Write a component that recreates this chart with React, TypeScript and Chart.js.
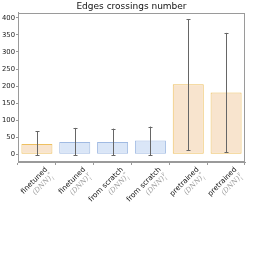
import React, { useEffect, useRef } from "react";
import { Chart, registerables } from "chart.js";

Chart.register(...registerables);

const categories = ["finetuned", "finetuned", "from scratch", "from scratch", "pretrained", "pretrained"];
const variantSup = ["*", "γ", "*", "γ", "*", "γ"];
const means = [30, 36, 36, 40, 205, 181];
const errLow = [-3, -3, -3, -3, 12, 6];
const errHigh = [67, 77, 75, 81, 396, 356];
const yTicks = [0, 50, 100, 150, 200, 250, 300, 350, 400];
const groupKind = ["o", "b", "b", "b", "o", "o"];

const ORANGE_FILL = "rgba(248,228,206,1)";
const ORANGE_EDGE = "rgba(238,192,96,1)";
const BLUE_FILL = "rgba(218,230,247,1)";
const BLUE_EDGE = "rgba(160,186,226,1)";
const FRAME = "#9a9a9a";

const framePlugin = {
  id: "frame",
  afterDraw(chart: any) {
    const { ctx, chartArea: a } = chart;
    ctx.save();
    ctx.strokeStyle = FRAME;
    ctx.lineWidth = 1;
    ctx.strokeRect(Math.round(a.left) + 0.5, Math.round(a.top) + 0.5, Math.round(a.right - a.left) - 1, Math.round(a.bottom - a.top) - 1);
    ctx.restore();
  },
};

const errorPlugin = {
  id: "errbars",
  afterDatasetsDraw(chart: any) {
    const { ctx } = chart;
    const xs = chart.scales.x;
    const ys = chart.scales.y;
    ctx.save();
    ctx.strokeStyle = "#666666";
    ctx.lineWidth = 1;
    for (let i = 0; i < means.length; i++) {
      const x = Math.round(xs.getPixelForValue(i)) + 0.5;
      const y1 = ys.getPixelForValue(errLow[i]);
      const y2 = ys.getPixelForValue(errHigh[i]);
      ctx.beginPath();
      ctx.moveTo(x, y1);
      ctx.lineTo(x, y2);
      ctx.moveTo(x - 2, Math.round(y1) + 0.5);
      ctx.lineTo(x + 2, Math.round(y1) + 0.5);
      ctx.moveTo(x - 2, Math.round(y2) + 0.5);
      ctx.lineTo(x + 2, Math.round(y2) + 0.5);
      ctx.stroke();
    }
    ctx.restore();
  },
};

const labelPlugin = {
  id: "xlabels",
  afterDraw(chart: any) {
    const { ctx } = chart;
    const xs = chart.scales.x;
    const bottom = chart.chartArea.bottom;
    for (let i = 0; i < categories.length; i++) {
      const cx = xs.getPixelForTick(i);
      ctx.save();
      ctx.translate(cx + 7, bottom + 4);
      ctx.rotate(-Math.PI / 4);
      ctx.textBaseline = "top";
      ctx.textAlign = "right";
      ctx.fillStyle = "#111";
      ctx.font = "7.2px 'DejaVu Sans'";
      ctx.fillText(categories[i], 0, 0);
      const lineY = 9;
      ctx.fillStyle = "#9a9a9a";
      ctx.font = "italic 7px 'DejaVu Serif'";
      const base = "(DNN)";
      const wBase = ctx.measureText(base).width;
      ctx.font = "italic 5px 'DejaVu Serif'";
      const wSup = ctx.measureText(variantSup[i]).width;
      const wSub = ctx.measureText("i").width;
      const total = wBase + Math.max(wSup, wSub) + 1;
      const sx = -total;
      ctx.textAlign = "left";
      ctx.font = "italic 7px 'DejaVu Serif'";
      ctx.fillText(base, sx, lineY);
      ctx.font = "italic 5px 'DejaVu Serif'";
      ctx.fillText(variantSup[i], sx + wBase + 0.5, lineY - 2);
      ctx.fillText("i", sx + wBase + 0.5, lineY + 4);
      ctx.restore();
    }
  },
};

export default function App() {
  const ref = useRef<HTMLCanvasElement>(null);
  useEffect(() => {
    document.body.style.margin = "0";
    const canvas = ref.current!;
    const chart = new Chart(canvas, {
      type: "bar",
      data: {
        labels: categories,
        datasets: [
          {
            data: means,
            backgroundColor: groupKind.map((k) => (k === "o" ? ORANGE_FILL : BLUE_FILL)),
            borderColor: groupKind.map((k) => (k === "o" ? ORANGE_EDGE : BLUE_EDGE)),
            borderWidth: 1,
            borderSkipped: false,
            barPercentage: 0.82,
            categoryPercentage: 1,
          },
        ],
      },
      options: {
        animation: false,
        responsive: false,
        devicePixelRatio: 1,
        layout: { padding: { left: 0, right: 13, top: 0, bottom: 0 } },
        plugins: {
          legend: { display: false },
          tooltip: { enabled: false },
          title: {
            display: true,
            text: "Edges crossings number",
            color: "#111",
            font: { family: "'DejaVu Sans'", size: 9, weight: "normal" },
            padding: { top: 1, bottom: 1 },
            fullSize: false,
          },
        },
        scales: {
          x: {
            offset: true,
            ticks: { display: false },
            grid: { drawOnChartArea: false, tickLength: 3, color: FRAME },
            border: { color: FRAME },
            afterFit: (s: any) => {
              s.height = 96;
            },
          },
          y: {
            min: -23,
            max: 415,
            afterBuildTicks: (s: any) => {
              s.ticks = yTicks.map((v) => ({ value: v }));
            },
            ticks: {
              color: "#222",
              font: { family: "'DejaVu Sans'", size: 6.8 },
              padding: 1,
            },
            grid: { drawOnChartArea: false, tickLength: 2, color: FRAME },
            border: { color: FRAME },
            afterFit: (s: any) => {
              s.width = 18;
            },
          },
        },
      },
      plugins: [errorPlugin, framePlugin, labelPlugin],
    });
    return () => chart.destroy();
  }, []);
  return (
    <div style={{ width: 258, height: 258 }}>
      <canvas ref={ref} width={258} height={258} />
    </div>
  );
}
